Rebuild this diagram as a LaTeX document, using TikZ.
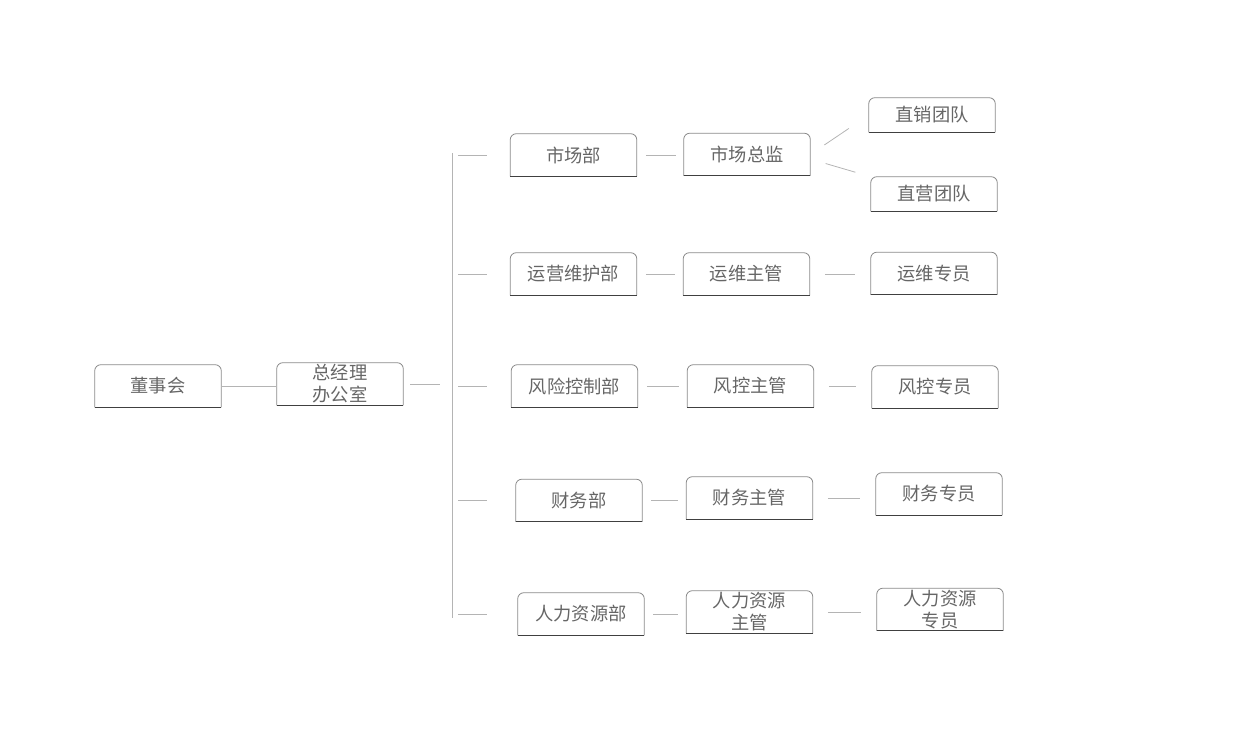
\documentclass[tikz,border=0pt]{standalone}
\usepackage{fontspec}
\newfontfamily\cjk{Noto Sans CJK SC}
\definecolor{textgray}{HTML}{666666}
\definecolor{linegray}{HTML}{B4B4B4}
\definecolor{sidegray}{HTML}{8A8A8A}
\definecolor{basegray}{HTML}{404040}
\begin{document}
\begin{tikzpicture}[
            x=0.75pt, y=-0.75pt,
            box/.style={rectangle, minimum width=94.5pt, minimum height=31.5pt, inner sep=0pt, text centered, align=center, text=textgray, font=\cjk\fontsize{13.7}{16.5}\selectfont},
            low/.style={minimum height=25.5pt},
            link/.style={draw=linegray, line width=0.6pt},
            side/.style={draw=sidegray, line width=0.6pt, rounded corners=4.5pt},
            base/.style={draw=basegray, line width=0.8pt}
        ]
            \useasboundingbox (0,0) rectangle (1260,750);

            % Board and general office
            \node[box] (board) at (158,386) {董事会};
            \node[box] (gm) at (340,384) {总经理\\办公室};

            % Departments
            \node[box] (mkt) at (573.5,155) {市场部};
            \node[box] (ops) at (573.5,274) {运营维护部};
            \node[box] (risk) at (574.5,386) {风险控制部};
            \node[box] (fin) at (579,500.5) {财务部};
            \node[box] (hr) at (581,614) {人力资源部};

            % Managers
            \node[box] (mktdir) at (747,154.5) {市场总监};
            \node[box] (opsmgr) at (746.5,274) {运维主管};
            \node[box] (riskmgr) at (750.5,386) {风控主管};
            \node[box] (finmgr) at (749.5,498) {财务主管};
            \node[box] (hrmgr) at (749.5,612) {人力资源\\主管};

            % Staff and teams
            \node[box, low] (direct) at (932,115) {直销团队};
            \node[box, low] (retail) at (934,194) {直营团队};
            \node[box] (opsstaff) at (934,273.5) {运维专员};
            \node[box] (riskstaff) at (935,387) {风控专员};
            \node[box] (finstaff) at (939,494) {财务专员};
            \node[box] (hrstaff) at (940,609.5) {人力资源\\专员};

            % Box outlines: rounded top, flat dark base
            \foreach \n in {board,gm,mkt,ops,risk,fin,hr,mktdir,opsmgr,riskmgr,finmgr,hrmgr,direct,retail,opsstaff,riskstaff,finstaff,hrstaff} {
                \draw[side] (\n.south west) -- (\n.north west) -- (\n.north east) -- (\n.south east);
                \draw[base] (\n.south west) -- (\n.south east);
            }

            % Trunk
            \coordinate (top) at (452,153);
            \coordinate (bottom) at (452,618);
            \draw[link] (top) -- (bottom);

            % Connections
            \draw[link] (board.east) -- (board.east -| gm.west);
            \draw[link, shorten <=5.25pt, shorten >=9pt] (gm.east) -- (gm.east -| top);
            \foreach \d in {mkt,ops,risk,fin,hr}
                \draw[link] ([xshift=4.5pt]\d.west -| top) -- ([xshift=26.25pt]\d.west -| top);
            \foreach \a/\b in {mkt/mktdir,ops/opsmgr,risk/riskmgr,fin/finmgr,hr/hrmgr}
                \draw[link, shorten <=6.75pt, shorten >=6pt] (\a.east) -- (\a.east -| \b.west);
            \foreach \a/\b in {opsmgr/opsstaff,riskmgr/riskstaff,finmgr/finstaff,hrmgr/hrstaff}
                \draw[link, shorten <=11.25pt, shorten >=12pt] (\a.east) -- (\a.east -| \b.west);
            \draw[link, shorten <=12.75pt, shorten >=18pt] (mktdir.east) -- (direct.west);
            \draw[link, shorten <=12pt, shorten >=12pt] ([yshift=-3.4pt]mktdir.east) -- (retail.north west);
        \end{tikzpicture}
\end{document}
